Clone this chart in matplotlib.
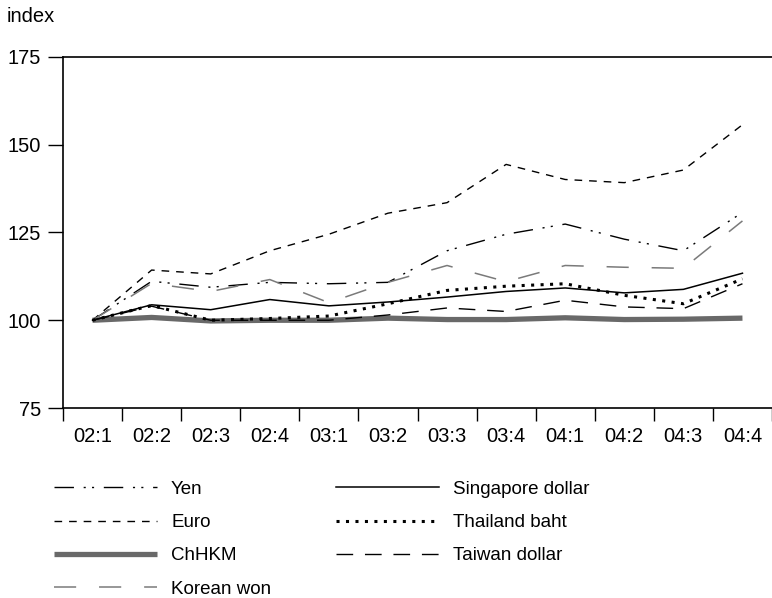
import matplotlib
matplotlib.use("Agg")
import matplotlib.pyplot as plt
import numpy as np

plt.rcParams['font.family'] = ['Liberation Sans', 'DejaVu Sans']

quarters = ['02:1', '02:2', '02:3', '02:4', '03:1', '03:2',
            '03:3', '03:4', '04:1', '04:2', '04:3', '04:4']

yen = [100, 111.1, 109.4, 110.8, 110.4, 110.8, 119.8, 124.5, 127.4, 123.1, 119.8, 130.7]
euro = [100, 114.3, 113.2, 119.8, 124.5, 130.5, 133.5, 144.4, 140.1, 139.2, 142.8, 155.7]
chhkm = [100, 100.8, 99.8, 100.0, 100.0, 100.6, 100.2, 100.2, 100.7, 100.2, 100.3, 100.6]
korean = [100, 110.5, 108.2, 111.6, 105.0, 110.8, 115.6, 111.0, 115.6, 115.1, 114.8, 128.3]
singapore = [100, 104.4, 103.0, 105.9, 104.1, 105.2, 106.6, 108.2, 109.2, 107.8, 108.8, 113.4]
thailand = [100, 104.2, 100.0, 100.5, 101.2, 104.7, 108.5, 109.7, 110.4, 107.1, 104.7, 111.8]
taiwan = [100, 104.0, 100.0, 100.0, 100.0, 101.5, 103.5, 102.5, 105.7, 103.8, 103.3, 110.4]

x = np.arange(len(quarters))

fig = plt.figure(figsize=(7.72, 5.98), dpi=100)
ax = fig.add_axes([63 / 772, 1 - 408 / 598, 1 - 63 / 772, (408 - 57) / 598])

# line styles roughly like the printed original
ax.plot(x, yen, color='black', lw=1.0, ls=(0, (14, 7, 1.5, 4.5, 1.5, 7)), label='Yen')
ax.plot(x, euro, color='black', lw=1.0, ls=(0, (5.5, 5)), label='Euro')
ax.plot(x, chhkm, color='#696969', lw=3.8, solid_capstyle='butt', label='ChHKM')
ax.plot(x, korean, color='#7a7a7a', lw=1.1, ls=(0, (14.5, 15)), label='Korean won')
ax.plot(x, singapore, color='black', lw=1.1, label='Singapore dollar')
ax.plot(x, thailand, color='black', lw=2.2, ls=(0, (1, 2.1)), label='Thailand baht')
ax.plot(x, taiwan, color='black', lw=1.0, ls=(0, (12, 8.5)), label='Taiwan dollar')

ax.set_xlim(-0.5, -0.5 + 709 / 59.4)
ax.set_ylim(75, 175)
ax.set_yticks([75, 100, 125, 150, 175])
ax.tick_params(axis='y', length=11, width=1, labelsize=14.5, pad=5)

ax.set_xticks(x)
ax.set_xticklabels(quarters)
ax.set_xticks(np.arange(-0.5, 12, 1), minor=True)
ax.tick_params(axis='x', which='major', length=0, labelsize=14.5, pad=14)
ax.tick_params(axis='x', which='minor', length=9, width=1)

ax.spines['right'].set_visible(False)
for s in ['left', 'bottom', 'top']:
    ax.spines[s].set_linewidth(1.2)

fig.text(7 / 772, 1 - 17 / 598, 'index', fontsize=14.5, va='center', ha='left')

leg = fig.legend(loc='upper left', bbox_to_anchor=(37 / 772, 1 - 464 / 598),
                 ncol=2, frameon=False, handlelength=5.5,
                 prop={'family': ['Liberation Sans Narrow', 'Liberation Sans'], 'size': 13.5},
                 handletextpad=0.75, columnspacing=3.45, labelspacing=0.86)

fig.savefig('out.png', dpi=100)
